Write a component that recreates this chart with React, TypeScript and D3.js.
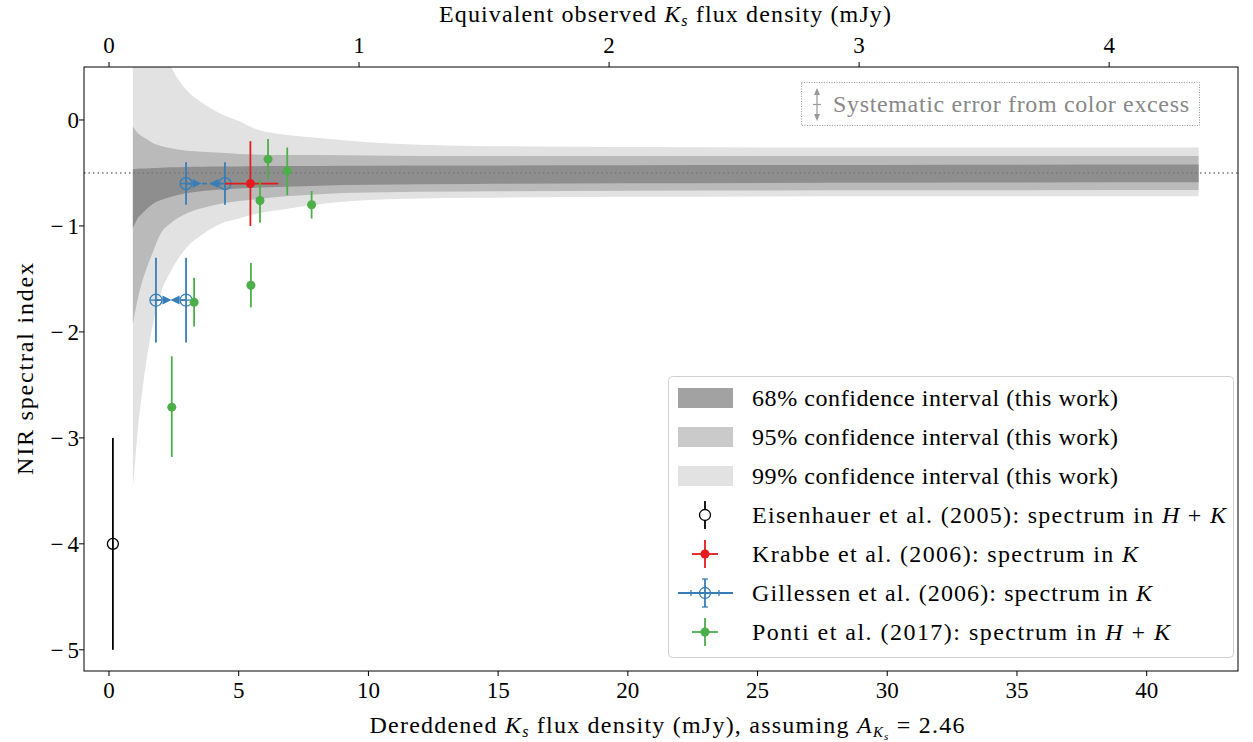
import React from "react";
import * as d3 from "d3";

// ---------- data ----------
const xTicks = [0, 5, 10, 15, 20, 25, 30, 35, 40];
const yTicks = [0, -1, -2, -3, -4, -5];
const topTicks = [0, 1, 2, 3, 4];
const extinctionAK = 2.46;

// confidence bands
const bandX = [0.92, 1.0, 1.1, 1.25, 1.45, 1.7, 2.0, 2.4, 3.0, 3.6, 4.3, 5.0, 5.6, 6.8, 8.1, 10, 14, 20, 30, 42];
const band99Hi = [3.2, 2.7, 2.25, 1.8, 1.4, 1.0, 0.75, 0.5, 0.28, 0.16, 0.06, -0.01, -0.08, -0.14, -0.17, -0.21, -0.245, -0.255, -0.26, -0.26];
const band95Hi = [-0.06, -0.09, -0.12, -0.15, -0.18, -0.22, -0.245, -0.267, -0.29, -0.3, -0.31, -0.32, -0.325, -0.33, -0.33, -0.335, -0.34, -0.34, -0.34, -0.34];
const band68Hi = [-0.465, -0.463, -0.461, -0.459, -0.457, -0.453, -0.45, -0.447, -0.444, -0.442, -0.44, -0.438, -0.436, -0.435, -0.434, -0.432, -0.43, -0.428, -0.424, -0.42];
const band68Lo = [-1.02, -0.98, -0.93, -0.89, -0.84, -0.79, -0.755, -0.725, -0.69, -0.67, -0.655, -0.647, -0.64, -0.63, -0.62, -0.612, -0.604, -0.598, -0.592, -0.588];
const band95Lo = [-1.93, -1.82, -1.7, -1.55, -1.4, -1.24, -1.07, -0.97, -0.88, -0.83, -0.79, -0.765, -0.75, -0.72, -0.7, -0.685, -0.675, -0.668, -0.664, -0.66];
const band99Lo = [-3.48, -3.25, -2.95, -2.62, -2.26, -1.92, -1.63, -1.42, -1.2, -1.08, -0.98, -0.93, -0.89, -0.84, -0.795, -0.755, -0.735, -0.725, -0.72, -0.72];
const referenceIndex = -0.5;

// literature values
const eisX = [0.15];
const eisY = [-4.0];
const eisYErr = [1.0];

const krabbeX = [5.45];
const krabbeY = [-0.6];
const krabbeXErrLo = [0.98];
const krabbeXErrHi = [1.08];
const krabbeYErr = [0.4];

const gilXLo = [2.97, 1.81];
const gilXHi = [4.47, 2.97];
const gilY = [-0.6, -1.7];
const gilYErr = [0.2, 0.4];

const pontiX = [6.13, 6.87, 5.82, 7.81, 5.47, 3.28, 2.42];
const pontiY = [-0.37, -0.48, -0.76, -0.8, -1.56, -1.72, -2.71];
const pontiYErrUp = [0.19, 0.22, 0.2, 0.13, 0.21, 0.23, 0.48];
const pontiYErrDn = [0.19, 0.23, 0.21, 0.13, 0.21, 0.23, 0.47];

const legendLabels = [
  "68% confidence interval (this work)",
  "95% confidence interval (this work)",
  "99% confidence interval (this work)",
];

// ---------- style ----------
const FONT = "'Liberation Serif', 'DejaVu Serif', serif";
const C_RED = "#e41a1c";
const C_BLUE = "#377eb8";
const C_GREEN = "#4daf4a";
const C99 = "#e2e2e2";
const C95 = "#bababa";
const C68 = "#8e8e8e";
const L68 = "#a2a2a2";
const L95 = "#cacaca";
const L99 = "#e2e2e2";

const LEFT = 84, RIGHT = 1238, TOP = 67, BOTTOM = 671;

export default function App() {
  const factor = Math.pow(10, 0.4 * extinctionAK);
  const x = d3.scaleLinear().domain([-0.964, 43.52]).range([LEFT, RIGHT]);
  const xTop = d3.scaleLinear().domain([-0.964 / factor, 43.52 / factor]).range([LEFT, RIGHT]);
  const y = d3.scaleLinear().domain([-5.2, 0.5]).range([BOTTOM, TOP]);

  const idx = bandX.map((_, i) => i);
  const area = (lo: number[], hi: number[]) =>
    d3
      .area<number>()
      .x((i) => x(bandX[i]))
      .y0((i) => y(lo[i]))
      .y1((i) => y(hi[i]))
      .curve(d3.curveMonotoneX)(idx) || "";

  const fs = 24;
  const tfs = 23;
  const lw = 1.8;

  const tri = (cx: number, cy: number, dir: number, s = 4.5) =>
    `M${cx + dir * s},${cy} L${cx - dir * s},${cy - s} L${cx - dir * s},${cy + s} Z`;

  // legend
  const legX0 = 668, legY0 = 376, legW = 565, legH = 281;
  const rowY = (k: number) => 398 + k * 39;
  const hx = 705;
  const TX = 752;

  return (
    <svg width={1253} height={742} style={{ position: "absolute", left: 0, top: 0 }} fontFamily={FONT}>
      <rect x={0} y={0} width={1253} height={742} fill="white" />
      <defs>
        <clipPath id="plotClip">
          <rect x={LEFT} y={TOP} width={RIGHT - LEFT} height={BOTTOM - TOP} />
        </clipPath>
      </defs>

      <g clipPath="url(#plotClip)">
        <path d={area(band99Lo, band99Hi)} fill={C99} />
        <path d={area(band95Lo, band95Hi)} fill={C95} />
        <path d={area(band68Lo, band68Hi)} fill={C68} />
        <line x1={LEFT} x2={RIGHT} y1={y(referenceIndex)} y2={y(referenceIndex)} stroke="#777" strokeWidth={1.4} strokeDasharray="1.5,3" />

        {/* Eisenhauer */}
        {eisX.map((v, i) => (
          <g key={"e" + i}>
            <line x1={x(v)} x2={x(v)} y1={y(eisY[i] + eisYErr[i])} y2={y(eisY[i] - eisYErr[i])} stroke="black" strokeWidth={lw} />
            <circle cx={x(v)} cy={y(eisY[i])} r={5.5} fill="none" stroke="black" strokeWidth={1.3} />
          </g>
        ))}

        {/* Gillessen */}
        {gilY.map((v, i) => {
          const a = x(gilXLo[i]);
          const b = x(gilXHi[i]);
          const cy = y(v);
          return (
            <g key={"g" + i}>
              <line x1={a} x2={b} y1={cy} y2={cy} stroke={C_BLUE} strokeWidth={lw} strokeDasharray="5,3" />
              <path d={tri(a + 11, cy, 1)} fill={C_BLUE} />
              <path d={tri(b - 11, cy, -1)} fill={C_BLUE} />
              {[a, b].map((cx, k) => (
                <g key={k}>
                  <line x1={cx} x2={cx} y1={y(v + gilYErr[i])} y2={y(v - gilYErr[i])} stroke={C_BLUE} strokeWidth={lw} />
                  <line x1={cx - 5.5} x2={cx + 5.5} y1={cy} y2={cy} stroke={C_BLUE} strokeWidth={1.3} />
                  <circle cx={cx} cy={cy} r={6} fill="none" stroke={C_BLUE} strokeWidth={1.3} />
                </g>
              ))}
            </g>
          );
        })}

        {/* Krabbe */}
        {krabbeX.map((v, i) => (
          <g key={"k" + i}>
            <line x1={x(v)} x2={x(v)} y1={y(krabbeY[i] + krabbeYErr[i])} y2={y(krabbeY[i] - krabbeYErr[i])} stroke={C_RED} strokeWidth={lw} />
            <line x1={x(v - krabbeXErrLo[i])} x2={x(v + krabbeXErrHi[i])} y1={y(krabbeY[i])} y2={y(krabbeY[i])} stroke={C_RED} strokeWidth={lw} />
            <circle cx={x(v)} cy={y(krabbeY[i])} r={4.5} fill={C_RED} />
          </g>
        ))}

        {/* Ponti */}
        {pontiX.map((v, i) => (
          <g key={"p" + i}>
            <line x1={x(v)} x2={x(v)} y1={y(pontiY[i] + pontiYErrUp[i])} y2={y(pontiY[i] - pontiYErrDn[i])} stroke={C_GREEN} strokeWidth={lw} />
            <circle cx={x(v)} cy={y(pontiY[i])} r={4.5} fill={C_GREEN} />
          </g>
        ))}
      </g>

      {/* frame */}
      <rect x={LEFT} y={TOP} width={RIGHT - LEFT} height={BOTTOM - TOP} fill="none" stroke="black" strokeWidth={1} />

      {/* bottom axis */}
      {xTicks.map((t) => (
        <g key={"xb" + t}>
          <line x1={x(t)} x2={x(t)} y1={BOTTOM} y2={BOTTOM + 5} stroke="black" strokeWidth={1} />
          <text x={x(t)} y={BOTTOM + 27} fontSize={tfs} textAnchor="middle">{t}</text>
        </g>
      ))}
      {/* top axis */}
      {topTicks.map((t) => (
        <g key={"xt" + t}>
          <line x1={xTop(t)} x2={xTop(t)} y1={TOP} y2={TOP - 5} stroke="black" strokeWidth={1} />
          <text x={xTop(t)} y={TOP - 14} fontSize={tfs} textAnchor="middle">{t}</text>
        </g>
      ))}
      {/* left axis */}
      {yTicks.map((t) => (
        <g key={"y" + t}>
          <line x1={LEFT} x2={LEFT - 5} y1={y(t)} y2={y(t)} stroke="black" strokeWidth={1} />
          {t < 0 ? (
            <text x={LEFT - 5} y={y(t) + 8} fontSize={tfs} textAnchor="end">
              <tspan>{"\u2212"}</tspan>
              <tspan dx={4}>{Math.abs(t)}</tspan>
            </text>
          ) : (
            <text x={LEFT - 5} y={y(t) + 8} fontSize={tfs} textAnchor="end">{t}</text>
          )}
        </g>
      ))}

      {/* axis labels */}
      <text x={667} y={733} fontSize={fs} textAnchor="middle" textLength={595} lengthAdjust="spacing">
        <tspan>Dereddened </tspan>
        <tspan fontStyle="italic">K</tspan>
        <tspan fontStyle="italic" fontSize="16" dy="4">s</tspan>
        <tspan dy="-4"> flux density (mJy), assuming </tspan>
        <tspan fontStyle="italic">A</tspan>
        <tspan fontStyle="italic" fontSize="15" dy="4">K</tspan>
        <tspan fontStyle="italic" fontSize="11" dy="3">s</tspan>
        <tspan dy="-7"> = 2.46</tspan>
      </text>
      <text x={665} y={22} fontSize={fs} textAnchor="middle" textLength={452} lengthAdjust="spacing">
        <tspan>Equivalent observed </tspan>
        <tspan fontStyle="italic">K</tspan>
        <tspan fontStyle="italic" fontSize="16" dy="4">s</tspan>
        <tspan dy="-4"> flux density (mJy)</tspan>
      </text>
      <text transform={`translate(33,${(TOP + BOTTOM) / 2}) rotate(-90)`} fontSize={fs} textAnchor="middle" textLength={212} lengthAdjust="spacing">
        NIR spectral index
      </text>

      {/* systematic error box */}
      <rect x={801.5} y={82.5} width={398} height={43} fill="white" stroke="#999" strokeWidth={1} strokeDasharray="1,1.5" />
      <line x1={817} x2={817} y1={90} y2={119} stroke="#999" strokeWidth={1.2} />
      <line x1={813} x2={821} y1={104.5} y2={104.5} stroke="#999" strokeWidth={1.2} />
      <path d="M817,88 L814,95 L820,95 Z" fill="#999" />
      <path d="M817,121 L814,114 L820,114 Z" fill="#999" />
      <text x={833} y={112} fontSize={fs} fill="#888" textLength={356} lengthAdjust="spacing">Systematic error from color excess</text>

      {/* legend */}
      <rect x={legX0 + 0.5} y={legY0 + 0.5} width={legW} height={legH} rx={4} fill="white" fillOpacity={0.85} stroke="#d0d0d0" strokeWidth={1} />
      {[L68, L95, L99].map((c, k) => (
        <g key={"lp" + k}>
          <rect x={678} y={rowY(k) - 10} width={55} height={20} fill={c} />
          <text x={TX} y={rowY(k) + 8} fontSize={fs} textLength={366} lengthAdjust="spacing">{legendLabels[k]}</text>
        </g>
      ))}
      {/* Eisenhauer handle */}
      <g>
        <line x1={hx} x2={hx} y1={rowY(3) - 14} y2={rowY(3) + 14} stroke="black" strokeWidth={lw} />
        <circle cx={hx} cy={rowY(3)} r={5.5} fill="white" stroke="black" strokeWidth={1.3} />
        <text x={TX} y={rowY(3) + 8} fontSize={fs} textLength={474} lengthAdjust="spacing">
          Eisenhauer et al. (2005): spectrum in <tspan fontStyle="italic">H</tspan> + <tspan fontStyle="italic">K</tspan>
        </text>
      </g>
      {/* Krabbe handle */}
      <g>
        <line x1={hx} x2={hx} y1={rowY(4) - 14} y2={rowY(4) + 14} stroke={C_RED} strokeWidth={lw} />
        <line x1={hx - 13} x2={hx + 13} y1={rowY(4)} y2={rowY(4)} stroke={C_RED} strokeWidth={lw} />
        <circle cx={hx} cy={rowY(4)} r={4.5} fill={C_RED} />
        <text x={TX} y={rowY(4) + 8} fontSize={fs} textLength={386} lengthAdjust="spacing">
          Krabbe et al. (2006): spectrum in <tspan fontStyle="italic">K</tspan>
        </text>
      </g>
      {/* Gillessen handle */}
      <g>
        <line x1={678} x2={733} y1={rowY(5)} y2={rowY(5)} stroke={C_BLUE} strokeWidth={lw} />
        <line x1={691} x2={691} y1={rowY(5) - 3} y2={rowY(5) + 3} stroke={C_BLUE} strokeWidth={1.3} />
        <line x1={719} x2={719} y1={rowY(5) - 3} y2={rowY(5) + 3} stroke={C_BLUE} strokeWidth={1.3} />
        <line x1={hx} x2={hx} y1={rowY(5) - 14} y2={rowY(5) + 14} stroke={C_BLUE} strokeWidth={lw} />
        <line x1={hx - 3} x2={hx + 3} y1={rowY(5) - 14} y2={rowY(5) - 14} stroke={C_BLUE} strokeWidth={1.3} />
        <line x1={hx - 3} x2={hx + 3} y1={rowY(5) + 14} y2={rowY(5) + 14} stroke={C_BLUE} strokeWidth={1.3} />
        <circle cx={hx} cy={rowY(5)} r={5.5} fill="none" stroke={C_BLUE} strokeWidth={1.3} />
        <text x={TX} y={rowY(5) + 8} fontSize={fs} textLength={400} lengthAdjust="spacing">
          Gillessen et al. (2006): spectrum in <tspan fontStyle="italic">K</tspan>
        </text>
      </g>
      {/* Ponti handle */}
      <g>
        <line x1={hx} x2={hx} y1={rowY(6) - 14} y2={rowY(6) + 14} stroke={C_GREEN} strokeWidth={lw} />
        <line x1={hx - 13} x2={hx + 13} y1={rowY(6)} y2={rowY(6)} stroke={C_GREEN} strokeWidth={lw} />
        <circle cx={hx} cy={rowY(6)} r={4.5} fill={C_GREEN} />
        <text x={TX} y={rowY(6) + 8} fontSize={fs} textLength={418} lengthAdjust="spacing">
          Ponti et al. (2017): spectrum in <tspan fontStyle="italic">H</tspan> + <tspan fontStyle="italic">K</tspan>
        </text>
      </g>
    </svg>
  );
}
